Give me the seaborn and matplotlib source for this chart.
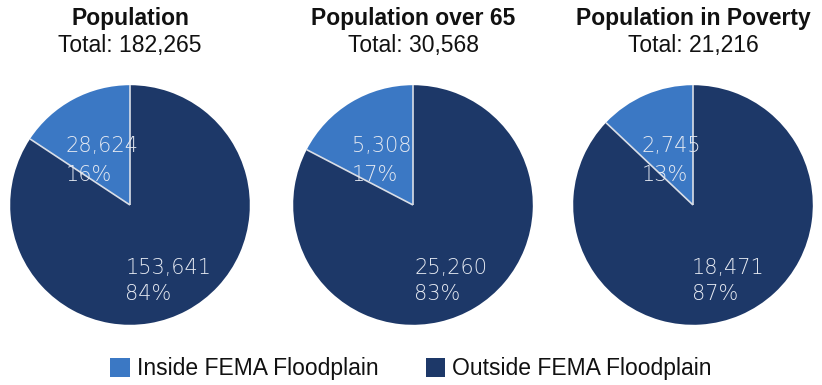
import matplotlib
matplotlib.use("Agg")
import matplotlib.pyplot as plt
from matplotlib.patches import Patch
import numpy as np
import seaborn as sns

# ---- data ----
titles = ["Population", "Population over 65", "Population in Poverty"]
totals = [182265, 30568, 21216]
inside = [28624, 5308, 2745]
outside = [153641, 25260, 18471]
inside_pct = ["16%", "17%", "13%"]
outside_pct = ["84%", "83%", "87%"]
categories = ["Inside FEMA Floodplain", "Outside FEMA Floodplain"]

sns.set_theme(style="white")
plt.rcParams['font.family'] = ['Liberation Sans', 'DejaVu Sans']
colors = sns.color_palette(["#3b78c4", "#1d3868"])

W, H = 822, 385
fig = plt.figure(figsize=(W / 100, H / 100), dpi=100)

centers_x = [130, 413, 693]
center_y = 205
radius_px = 121
inside_dx = [-0.54, -0.51, -0.43]
outside_dx = [-0.04, 0.01, -0.01]

for i in range(3):
    cx = centers_x[i]
    ax = fig.add_axes([(cx - radius_px) / W, (H - center_y - radius_px) / H,
                       2 * radius_px / W, 2 * radius_px / H])
    wedges, _ = ax.pie([inside[i], outside[i]], colors=colors, startangle=90,
                       counterclock=True, radius=1.0,
                       wedgeprops=dict(edgecolor="none", linewidth=0))
    # light separators along the slice boundaries
    for ang in (wedges[0].theta1, wedges[0].theta2):
        t = np.deg2rad(ang)
        ax.plot([0, np.cos(t)], [0, np.sin(t)], color="#d9dee7", lw=1.2,
                solid_capstyle="butt")
    ax.set_xlim(-1.01, 1.01)
    ax.set_ylim(-1.01, 1.01)
    ax.set_aspect("auto")
    ax.axis("off")
    lab = dict(color="#e6eaf2", fontsize=15, family=["DejaVu Sans"],
               fontweight="light", ha="left", va="center")
    ax.text(inside_dx[i], 0.49, f"{inside[i]:,}", **lab)
    ax.text(inside_dx[i], 0.25, inside_pct[i], **lab)
    ax.text(outside_dx[i], -0.525, f"{outside[i]:,}", **lab)
    ax.text(outside_dx[i], -0.74, outside_pct[i], **lab)

    fig.text(cx / W, 1 - 18 / H, titles[i], ha="center", va="center",
             fontsize=16.5, fontweight="bold", color="#111111")
    fig.text(cx / W, 1 - 45.5 / H, f"Total: {totals[i]:,}", ha="center",
             va="center", fontsize=16.5, color="#111111")

handles = [Patch(facecolor=colors[0], edgecolor="none"),
           Patch(facecolor=colors[1], edgecolor="none")]
fig.legend(handles, categories, loc="center", bbox_to_anchor=(411 / W, 1 - 369 / H),
           ncol=2, frameon=False, fontsize=16.5, handlelength=0.87, handleheight=0.92,
           handletextpad=0.3, columnspacing=2.05, borderpad=0.1,
           labelcolor="#111111")

fig.savefig("out.png", dpi=100, facecolor="white")
